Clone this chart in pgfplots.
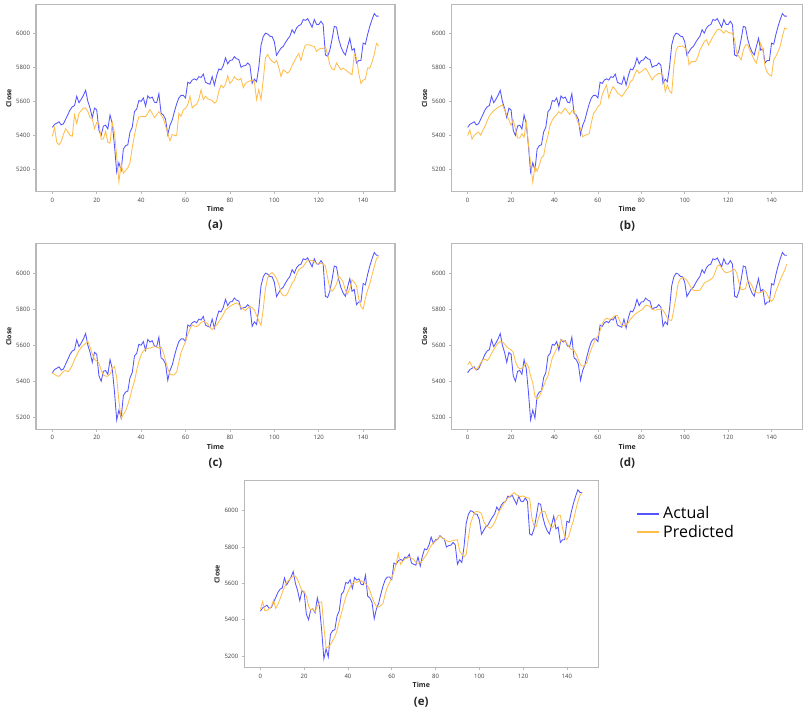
\documentclass[border=0pt]{standalone}
\usepackage{fontspec}
\setmainfont{Open Sans}
\usepackage{pgfplots}
\usepackage{pgfplotstable}
\pgfplotsset{compat=1.18}

\definecolor{actc}{RGB}{85,85,255}
\definecolor{predc}{RGB}{255,190,75}
\definecolor{framec}{RGB}{185,185,185}

\pgfplotstableread{
t act pa pb pc pd pe
0 5447 5395 5398 5446 5493 5457
1 5465 5445 5432 5438 5508 5499
2 5472 5360 5378 5430 5484 5450
3 5480 5345 5400 5427 5472 5452
4 5462 5365 5412 5440 5466 5460
5 5468 5405 5420 5455 5480 5472
6 5495 5440 5402 5460 5502 5508
7 5522 5420 5430 5452 5518 5462
8 5550 5400 5455 5465 5522 5485
9 5568 5395 5485 5490 5515 5515
10 5575 5520 5515 5520 5530 5550
11 5630 5470 5530 5545 5555 5580
12 5592 5530 5545 5570 5575 5605
13 5612 5545 5555 5588 5595 5618
14 5635 5560 5565 5600 5612 5630
15 5665 5560 5572 5610 5620 5638
16 5600 5540 5580 5621 5618 5640
17 5560 5505 5550 5590 5606 5620
18 5505 5495 5520 5550 5592 5590
19 5560 5440 5490 5522 5580 5560
20 5550 5475 5460 5512 5575 5556
21 5430 5470 5490 5500 5560 5530
22 5400 5378 5440 5462 5510 5475
23 5455 5380 5385 5435 5480 5453
24 5460 5425 5385 5428 5469 5460
25 5438 5360 5410 5428 5472 5444
26 5520 5355 5390 5440 5485 5475
27 5470 5475 5475 5470 5500 5495
28 5340 5415 5350 5482 5480 5499
29 5185 5280 5235 5420 5430 5361
30 5240 5128 5125 5290 5391 5245
31 5195 5230 5220 5195 5317 5250
32 5320 5178 5190 5215 5300 5262
33 5340 5195 5225 5235 5315 5285
34 5345 5210 5270 5270 5345 5306
35 5420 5240 5280 5310 5373 5340
36 5448 5330 5350 5360 5405 5390
37 5540 5400 5400 5400 5430 5435
38 5555 5465 5462 5460 5480 5480
39 5605 5510 5490 5510 5530 5525
40 5600 5510 5510 5545 5555 5554
41 5620 5512 5522 5568 5580 5580
42 5572 5510 5540 5578 5600 5600
43 5632 5530 5528 5582 5630 5609
44 5618 5552 5545 5584 5626 5605
45 5625 5530 5560 5588 5620 5612
46 5595 5505 5540 5592 5606 5615
47 5592 5520 5522 5590 5585 5604
48 5645 5540 5545 5584 5575 5600
49 5530 5520 5548 5590 5572 5585
50 5520 5500 5505 5560 5550 5560
51 5495 5455 5470 5515 5520 5525
52 5405 5415 5440 5470 5490 5495
53 5460 5368 5392 5440 5484 5472
54 5490 5405 5400 5435 5488 5470
55 5540 5400 5405 5436 5505 5478
56 5585 5398 5410 5452 5545 5490
57 5620 5530 5475 5505 5580 5540
58 5635 5512 5530 5560 5610 5580
59 5635 5550 5545 5590 5635 5605
60 5620 5560 5570 5620 5650 5630
61 5712 5580 5580 5660 5680 5665
62 5705 5630 5640 5690 5720 5705
63 5725 5562 5670 5712 5740 5765
64 5732 5575 5695 5706 5750 5705
65 5725 5582 5620 5704 5745 5720
66 5745 5612 5660 5712 5745 5735
67 5740 5668 5686 5726 5755 5740
68 5760 5610 5670 5732 5765 5743
69 5712 5630 5650 5728 5765 5738
70 5705 5615 5640 5718 5735 5732
71 5700 5610 5628 5700 5710 5715
72 5745 5605 5645 5686 5708 5710
73 5695 5590 5665 5700 5715 5712
74 5750 5600 5682 5712 5725 5725
75 5790 5660 5716 5730 5745 5745
76 5785 5695 5725 5750 5758 5760
77 5810 5680 5760 5770 5772 5785
78 5855 5700 5784 5795 5780 5808
79 5820 5750 5765 5806 5788 5822
80 5840 5705 5775 5815 5795 5832
81 5842 5720 5784 5824 5805 5845
82 5862 5745 5794 5830 5822 5857
83 5850 5730 5774 5834 5820 5852
84 5845 5725 5750 5826 5815 5842
85 5800 5735 5725 5810 5800 5835
86 5808 5680 5745 5800 5795 5830
87 5810 5705 5755 5793 5796 5832
88 5825 5715 5765 5805 5800 5835
89 5812 5720 5760 5815 5800 5838
90 5705 5725 5755 5808 5795 5840
91 5730 5715 5657 5795 5775 5778
92 5715 5610 5696 5765 5750 5760
93 5800 5670 5660 5735 5740 5745
94 5930 5610 5647 5710 5738 5760
95 5980 5725 5804 5800 5800 5850
96 6000 5855 5900 5915 5870 5930
97 5995 5875 5922 5975 5945 5965
98 5982 5850 5922 5995 5968 5994
99 5980 5835 5925 6004 5975 5995
100 5950 5825 5915 5990 5973 5992
101 5870 5840 5902 5970 5960 5985
102 5892 5800 5814 5940 5940 5940
103 5912 5745 5833 5890 5918 5920
104 5922 5785 5833 5876 5905 5910
105 5945 5775 5835 5874 5903 5903
106 5965 5765 5860 5890 5903 5915
107 5982 5780 5902 5915 5906 5935
108 6020 5810 5925 5945 5925 5965
109 6000 5835 5950 5960 5945 5995
110 6030 5860 5961 5995 5952 6015
111 6045 5880 5931 6018 5958 6035
112 6050 5840 5955 6028 5966 6055
113 6080 5893 5980 6037 5975 6068
114 6075 5930 6000 6055 6005 6080
115 6085 5932 6020 6072 6038 6090
116 6060 5930 6024 6072 6047 6099
117 6035 5925 6015 6070 6030 6088
118 6080 5922 6000 6062 6012 6080
119 6052 5893 6016 6055 6002 6078
120 6050 5905 6005 6055 6005 6081
121 6070 5912 6000 6055 6010 6075
122 6050 5910 6000 6050 6018 6070
123 5872 5920 5961 6040 6022 6068
124 5865 5875 5880 5975 6000 5960
125 5900 5815 5863 5917 5945 5915
126 5965 5790 5843 5900 5910 5912
127 6040 5785 5900 5915 5908 5960
128 6035 5825 5931 5940 5915 5990
129 5965 5805 5931 5982 5960 5995
130 5920 5785 5900 5970 5950 5995
131 5890 5795 5873 5950 5930 5960
132 5872 5785 5843 5905 5900 5930
133 5922 5775 5824 5885 5892 5905
134 5970 5765 5880 5915 5890 5915
135 5900 5755 5941 5963 5893 5950
136 5910 5875 5902 5950 5900 5975
137 5825 5855 5804 5930 5902 5975
138 5840 5765 5770 5860 5882 5905
139 5840 5705 5755 5815 5855 5860
140 5942 5725 5749 5800 5844 5840
141 5935 5730 5843 5860 5858 5865
142 5992 5795 5865 5905 5900 5910
143 6040 5795 5892 5940 5930 5945
144 6080 5830 5925 5990 5962 6000
145 6115 5875 5980 6035 5990 6050
146 6100 5940 6030 6080 6015 6085
147 6100 5925 6025 6092 6050 6100
}\alldata

\pgfplotsset{
  panel/.style={
    scale only axis,
    anchor=south west,
    xmin=-7.35, xmax=154.35,
    xtick={0,20,...,140},
    ytick={5200,5400,...,6000},
    axis line style={framec, line width=1.1pt},
    tick style={framec, line width=0.7pt},
    tick align=outside,
    major tick length=2.5pt,
    xtick pos=bottom, ytick pos=left,
    ticklabel style={font=\fontsize{6}{7}\selectfont, text=black!75},
    /pgf/number format/assume math mode=true,
    /pgf/number format/1000 sep={},
    xlabel={Time}, ylabel={Close},
    label style={font=\fontsize{7}{8}\selectfont\bfseries, text=black!85},
    xlabel style={yshift=3pt},
    ylabel style={yshift=-2pt},
  },
  act/.style={color=actc, line width=0.85pt},
  pred/.style={color=predc, line width=0.85pt},
}

\begin{document}
\begin{tikzpicture}
\useasboundingbox (0,0) rectangle (804pt,709pt);

% (a)
\begin{axis}[panel, at={(36pt,517.3pt)}, width=359pt, height=187pt, ymin=5070, ymax=6167]
\addplot[act] table[x=t,y=act]{\alldata};
\addplot[pred] table[x=t,y=pa]{\alldata};
\end{axis}

% (b)
\begin{axis}[panel, at={(451.7pt,517.3pt)}, width=351pt, height=187pt, ymin=5070, ymax=6167]
\addplot[act] table[x=t,y=act]{\alldata};
\addplot[pred] table[x=t,y=pb]{\alldata};
\end{axis}

% (c)
\begin{axis}[panel, at={(36pt,279.5pt)}, width=359pt, height=186.2pt, ymin=5132, ymax=6166]
\addplot[act] table[x=t,y=act]{\alldata};
\addplot[pred] table[x=t,y=pc]{\alldata};
\end{axis}

% (d)
\begin{axis}[panel, at={(451.7pt,279.5pt)}, width=351pt, height=186.2pt, ymin=5132, ymax=6166]
\addplot[act] table[x=t,y=act]{\alldata};
\addplot[pred] table[x=t,y=pd]{\alldata};
\end{axis}

% (e)
\begin{axis}[panel, at={(244.3pt,41.3pt)}, width=354pt, height=187pt, ymin=5136, ymax=6165,
  legend style={at={(1.1065,0.87)}, anchor=north west, draw=none, fill=none,
    inner sep=0pt, font=\fontsize{16}{19}\selectfont, nodes={inner sep=1.5pt},
    row sep=1.5pt, /tikz/every odd column/.append style={column sep=1.5pt}},
  legend cell align=left,
  legend image code/.code={\draw[#1, line width=2pt] (0pt,0pt) -- (22pt,0pt);}]
\addplot[act] table[x=t,y=act]{\alldata};
\addlegendentry{Actual}
\addplot[pred] table[x=t,y=pe]{\alldata};
\addlegendentry{Predicted}
\end{axis}

\node[font=\fontsize{11.5}{13}\selectfont\bfseries, text=black!85] at (215.5pt,483.3pt) {(a)};
\node[font=\fontsize{11.5}{13}\selectfont\bfseries, text=black!85] at (627.4pt,483.3pt) {(b)};
\node[font=\fontsize{11.5}{13}\selectfont\bfseries, text=black!85] at (215.5pt,245.5pt) {(c)};
\node[font=\fontsize{11.5}{13}\selectfont\bfseries, text=black!85] at (627.4pt,245.5pt) {(d)};
\node[font=\fontsize{11.5}{13}\selectfont\bfseries, text=black!85] at (421.2pt,7pt) {(e)};
\end{tikzpicture}
\end{document}
